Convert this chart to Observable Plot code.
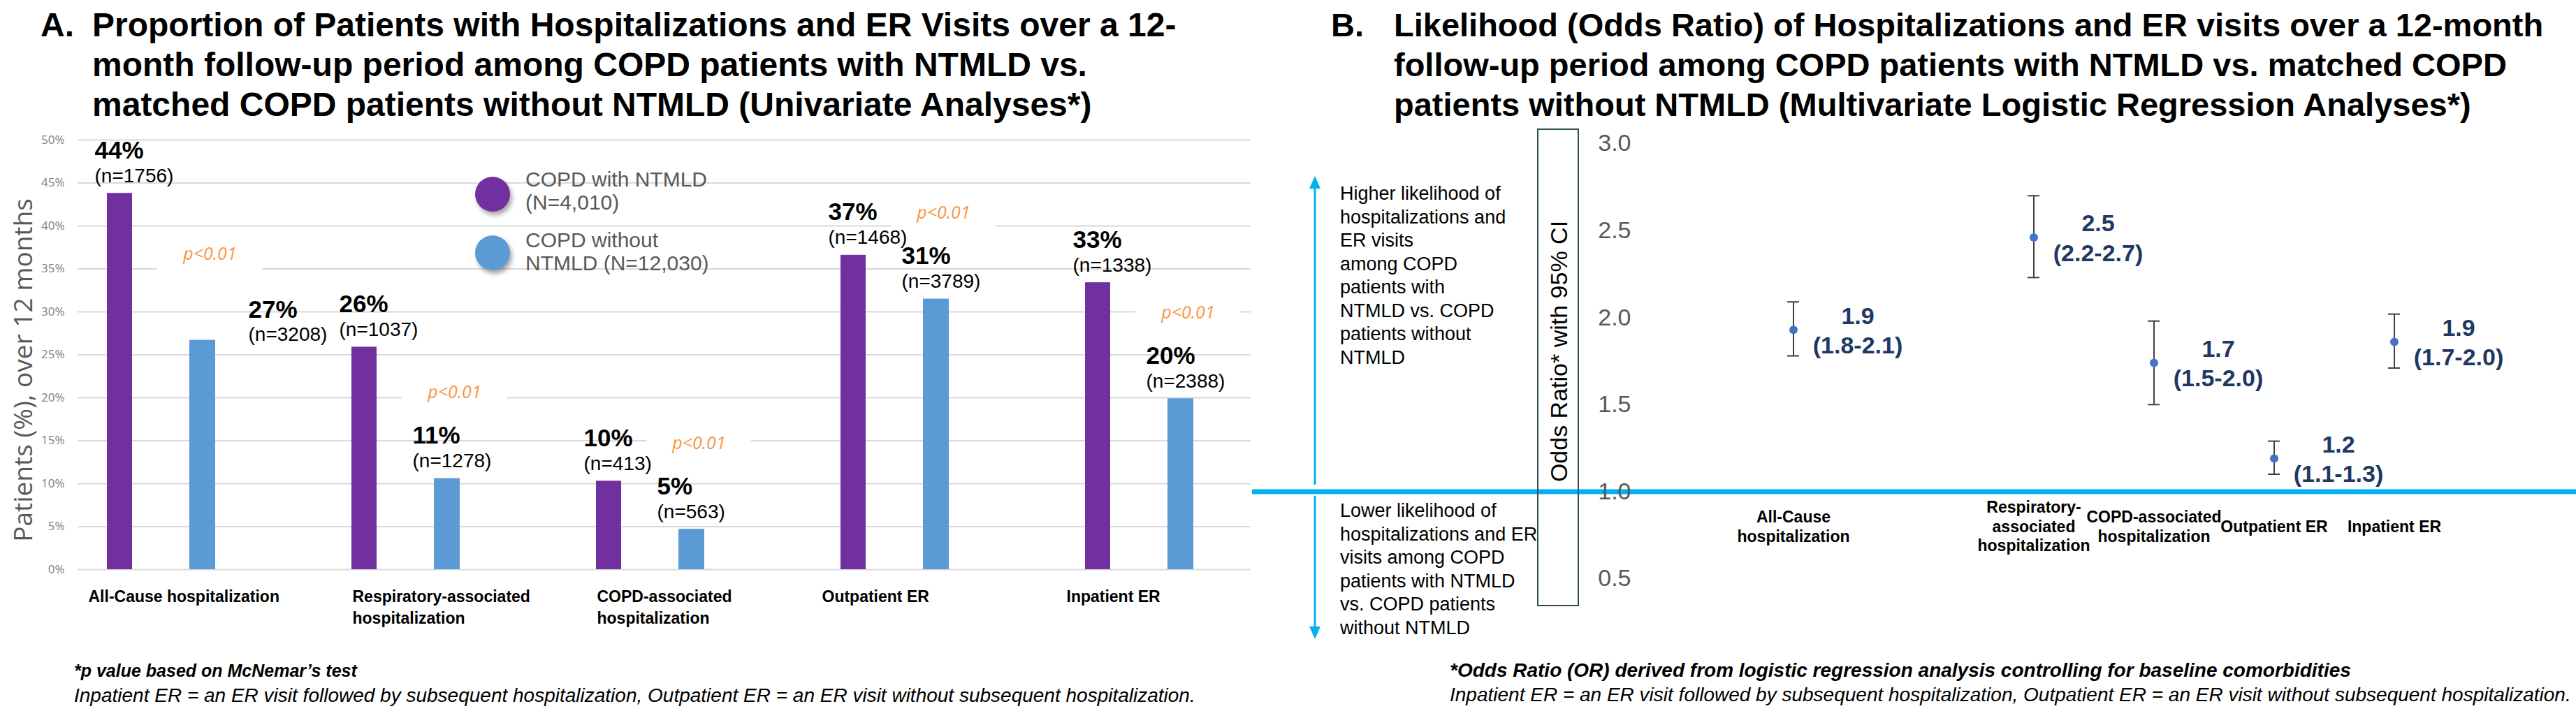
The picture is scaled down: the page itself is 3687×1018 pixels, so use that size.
<!DOCTYPE html>
<html><head><meta charset="utf-8">
<script src="https://cdn.jsdelivr.net/npm/d3@7"></script>
<script src="https://cdn.jsdelivr.net/npm/@observablehq/plot@0.6"></script>
<style>
html,body{margin:0;padding:0;background:#fff;}
body{width:3687px;height:1018px;position:relative;overflow:hidden;font-family:"Liberation Sans",Arial,Helvetica,sans-serif;color:#000;}
.abs{position:absolute;}
.title{font-weight:bold;font-size:48px;line-height:57px;white-space:nowrap;}
.legend-dot{position:absolute;width:50px;height:50px;border-radius:50%;box-shadow:3px 5px 6px rgba(0,0,0,0.35);}
.legend-txt{position:absolute;font-size:30px;line-height:33px;color:#595959;white-space:pre;}
.note{font-size:27px;line-height:33.5px;white-space:pre;}
.foot{font-size:28px;line-height:35px;font-style:italic;white-space:nowrap;}
</style></head><body>
<div id="root"></div>
<script>
// ---------- Panel A data ----------
const categories = ["All-Cause hospitalization","Respiratory-associated hospitalization","COPD-associated hospitalization","Outpatient ER","Inpatient ER"];
const categoryLabelsA = ["All-Cause hospitalization","Respiratory-associated\nhospitalization","COPD-associated\nhospitalization","Outpatient ER","Inpatient ER"];
const seriesLabels = ["COPD with NTMLD\n(N=4,010)","COPD without\nNTMLD (N=12,030)"];
const seriesColors = ["#7030A0","#5B9BD5"];
const pctWithNTMLD = [43.8,25.9,10.3,36.6,33.4];
const pctWithoutNTMLD = [26.7,10.6,4.7,31.5,19.9];
const pctLabelsWith = ["44%","26%","10%","37%","33%"];
const pctLabelsWithout = ["27%","11%","5%","31%","20%"];
const nLabelsWith = ["(n=1756)","(n=1037)","(n=413)","(n=1468)","(n=1338)"];
const nLabelsWithout = ["(n=3208)","(n=1278)","(n=563)","(n=3789)","(n=2388)"];
const pValueLabels = ["p<0.01","p<0.01","p<0.01","p<0.01","p<0.01"];
const yTicksA = [0,5,10,15,20,25,30,35,40,45,50];
const yTitleA = "Patients (%), over 12 months";

// ---------- Panel B data ----------
const categoryLabelsB = ["All-Cause\nhospitalization","Respiratory-\nassociated\nhospitalization","COPD-associated\nhospitalization","Outpatient ER","Inpatient ER"];
const oddsRatio = [1.93,2.46,1.74,1.19,1.86];
const ciLower = [1.78,2.23,1.50,1.10,1.71];
const ciUpper = [2.09,2.70,1.98,1.29,2.02];
const orLabels = ["1.9","2.5","1.7","1.2","1.9"];
const ciLabels = ["(1.8-2.1)","(2.2-2.7)","(1.5-2.0)","(1.1-1.3)","(1.7-2.0)"];
const yTicksB = [0.5,1.0,1.5,2.0,2.5,3.0];
const yTitleB = "Odds Ratio* with 95% CI";
// x slots of panel B: an empty slot follows the first category (wider gap in the original layout)
const xSlotsB = [categories[0], "", ...categories.slice(1)];

const titleA = ["Proportion of Patients with Hospitalizations and ER Visits over a 12-","month follow-up period among COPD patients with NTMLD vs.","matched COPD patients without NTMLD (Univariate Analyses*)"];
const titleB = ["Likelihood (Odds Ratio) of Hospitalizations and ER visits over a 12-month","follow-up period among COPD patients with NTMLD vs. matched COPD","patients without NTMLD (Multivariate Logistic Regression Analyses*)"];
const noteHigher = ["Higher likelihood of","hospitalizations and","ER visits","among COPD","patients with","NTMLD vs. COPD","patients without","NTMLD"];
const noteLower = ["Lower likelihood of","hospitalizations and ER","visits among COPD","patients with NTMLD","vs. COPD patients","without NTMLD"];
const footA = ["*p value based on McNemar\u2019s test","Inpatient ER = an ER visit followed by subsequent hospitalization, Outpatient ER = an ER visit without subsequent hospitalization."];
const footB = ["*Odds Ratio (OR) derived from logistic regression analysis controlling for baseline comorbidities","Inpatient ER = an ER visit followed by subsequent hospitalization, Outpatient ER = an ER visit without subsequent hospitalization."];

const fontMain = "Liberation Sans, Arial, Helvetica, sans-serif";
const root = document.getElementById("root");
function add(html){ root.insertAdjacentHTML("beforeend", html); }

// ---------- Panel A chart ----------
const rowsA = categories.map((cat,i)=>({idx:i,cat,lab:categoryLabelsA[i],w:pctWithNTMLD[i],wo:pctWithoutNTMLD[i],
  pw:pctLabelsWith[i],pwo:pctLabelsWithout[i],nw:nLabelsWith[i],nwo:nLabelsWithout[i],p:pValueLabels[i]}));

const plotA = Plot.plot({
  width:1810, height:900, marginLeft:53, marginRight:4, marginTop:200, marginBottom:85,
  x:{domain:categories, padding:0, axis:null},
  y:{domain:[0,50], axis:null},
  style:{fontFamily:fontMain, background:"transparent", overflow:"visible"},
  marks:[
    Plot.ruleY(yTicksA,{stroke:"#d9d9d9", strokeWidth:2, insetLeft:58, insetRight:16}),
    Plot.text(yTicksA,{y:d=>d, text:d=>`${d}%`, frameAnchor:"left", textAnchor:"end", dx:39, fontSize:17, fill:"#7f7f7f", fontFamily:"Open Sans"}),
    Plot.text([yTitleA],{frameAnchor:"left", textAnchor:"middle", rotate:-90, dx:-19, dy:22, fontSize:37, fill:"#595959", fontFamily:"Open Sans"}),
    Plot.barY(rowsA,{x:"cat", y:"w", fill:seriesColors[0], insetLeft:98, insetRight:216}),
    Plot.barY(rowsA,{x:"cat", y:"wo", fill:seriesColors[1], insetLeft:216, insetRight:97}),
    Plot.barY(rowsA,{x:"cat", y1:d=>d.wo+7.5, y2:d=>d.wo+12.5, fill:"white", insetLeft:170, insetRight:30}),
    Plot.text(rowsA,{x:"cat", y:d=>d.wo+10, text:"p", dx:70, fontSize:25, fontStyle:"italic", fill:"#F79646", fontFamily:"Open Sans"}),
    Plot.text(rowsA,{x:"cat", y:"w", text:"pw", textAnchor:"start", lineAnchor:"bottom", dx:-95, dy:-50, fontSize:35, fontWeight:"bold"}),
    Plot.text(rowsA,{x:"cat", y:"w", text:"nw", textAnchor:"start", lineAnchor:"bottom", dx:-95, dy:-16, fontSize:28}),
    Plot.text(rowsA,{filter:d=>d.idx>0, x:"cat", y:"wo", text:"pwo", textAnchor:"start", lineAnchor:"bottom", dx:10, dy:-50, fontSize:35, fontWeight:"bold"}),
    Plot.text(rowsA,{filter:d=>d.idx>0, x:"cat", y:"wo", text:"nwo", textAnchor:"start", lineAnchor:"bottom", dx:10, dy:-16, fontSize:28}),
    Plot.text(rowsA,{filter:d=>d.idx===0, x:"cat", y:"wo", text:"pwo", textAnchor:"start", lineAnchor:"bottom", dx:125, dy:-32, fontSize:35, fontWeight:"bold"}),
    Plot.text(rowsA,{filter:d=>d.idx===0, x:"cat", y:"wo", text:"nwo", textAnchor:"start", lineAnchor:"bottom", dx:125, dy:1, fontSize:28}),
    Plot.text(rowsA,{filter:d=>!d.lab.includes("\n"), x:"cat", y:0, text:"lab", textAnchor:"start", lineAnchor:"top", dx:-104, dy:24, fontSize:23, fontWeight:"bold", lineHeight:1.35}),
    Plot.text(rowsA,{filter:d=>d.lab.includes("\n"), x:"cat", y:0, text:"lab", textAnchor:"start", lineAnchor:"top", dx:-76, dy:24, fontSize:23, fontWeight:"bold", lineHeight:1.35})
  ]
});
plotA.style.position="absolute"; plotA.style.left="0px"; plotA.style.top="0px";
root.appendChild(plotA);

// ---------- Panel B chart ----------
const rowsB = categories.map((cat,i)=>({cat,lab:categoryLabelsB[i],or:oddsRatio[i],lo:ciLower[i],hi:ciUpper[i],txt:orLabels[i]+"\n"+ciLabels[i]}));
const plotB = Plot.plot({
  width:1895, height:900, marginLeft:553, marginRight:39, marginTop:205, marginBottom:72,
  x:{domain:xSlotsB, paddingInner:0.9, paddingOuter:1.225, axis:null},
  y:{domain:[0.5,3.0], axis:null},
  style:{fontFamily:fontMain, background:"transparent", overflow:"visible"},
  marks:[
    Plot.ruleY([1],{stroke:"#00B0F0", strokeWidth:7, insetLeft:-553, insetRight:-39}),
    Plot.text(yTicksB,{y:d=>d, text:d=>d.toFixed(1), frameAnchor:"left", textAnchor:"end", dx:-11, fontSize:34, fill:"#595959"}),
    Plot.ruleX(rowsB,{x:"cat", y1:"lo", y2:"hi", stroke:"#404040", strokeWidth:2}),
    Plot.tickY(rowsB,{x:"cat", y:"lo", stroke:"#404040", strokeWidth:2}),
    Plot.tickY(rowsB,{x:"cat", y:"hi", stroke:"#404040", strokeWidth:2}),
    Plot.dot(rowsB,{x:"cat", y:"or", r:6, fill:"#4472C4"}),
    Plot.text(rowsB,{x:"cat", y:"or", text:"txt", dx:92, dy:-1, fontSize:34, fontWeight:"bold", fill:"#1F3864", lineHeight:1.25, ariaLabel:"or-labels"}),
    Plot.text(rowsB,{x:"cat", y:1, text:"lab", dy:49, fontSize:23, fontWeight:"bold", lineHeight:1.2})
  ]
});
plotB.style.position="absolute"; plotB.style.left="1792px"; plotB.style.top="0px";
root.appendChild(plotB);
const orG = plotB.querySelector('g[aria-label="or-labels"]');
if (orG) orG.style.filter = "drop-shadow(1px 2px 1.5px rgba(0,0,0,0.35))";

// ---------- Titles ----------
add(`<div class="abs title" style="left:58px;top:7px">A.</div>`);
add(`<div class="abs title" style="left:132px;top:7px">${titleA.join("<br>")}</div>`);
add(`<div class="abs title" style="left:1905px;top:7px;font-size:47px">B.</div>`);
add(`<div class="abs title" style="left:1995px;top:7px;font-size:47px">${titleB.join("<br>")}</div>`);

// ---------- Legend A ----------
const legendTops = [240, 327];
const dotTops = [253, 337];
seriesLabels.forEach((s,i)=>{
  add(`<div class="legend-dot" style="left:680px;top:${dotTops[i]}px;background:${seriesColors[i]}"></div>`);
  add(`<div class="legend-txt" style="left:752px;top:${legendTops[i]}px">${s}</div>`);
});

// ---------- Panel B annotations ----------
add(`<div class="abs note" style="left:1918px;top:261px">${noteHigher.join("\n")}</div>`);
add(`<div class="abs note" style="left:1918px;top:715px">${noteLower.join("\n")}</div>`);
add(`<svg class="abs" style="left:1862px;top:240px" width="40" height="690" viewBox="0 0 40 690">
  <line x1="20" y1="454" x2="20" y2="26" stroke="#00B0F0" stroke-width="3"/>
  <polygon points="20,12 12,30 28,30" fill="#00B0F0"/>
  <line x1="20" y1="470" x2="20" y2="660" stroke="#00B0F0" stroke-width="3"/>
  <polygon points="20,675 12,657 28,657" fill="#00B0F0"/>
</svg>`);
add(`<div class="abs" style="left:2200px;top:184px;width:60px;height:684px;border:2px solid #2f4f4f;box-sizing:border-box"></div>`);
add(`<div class="abs" style="left:2231px;top:503px;transform:translate(-50%,-50%) rotate(-90deg);font-size:34px;white-space:nowrap">${yTitleB}</div>`);

// ---------- Footnotes ----------
add(`<div class="abs foot" style="left:106px;top:942px"><b style="font-size:25px">${footA[0]}</b><br>${footA[1]}</div>`);
add(`<div class="abs foot" style="left:2075px;top:942px"><b>${footB[0]}</b><br>${footB[1]}</div>`);
</script>
</body></html>
